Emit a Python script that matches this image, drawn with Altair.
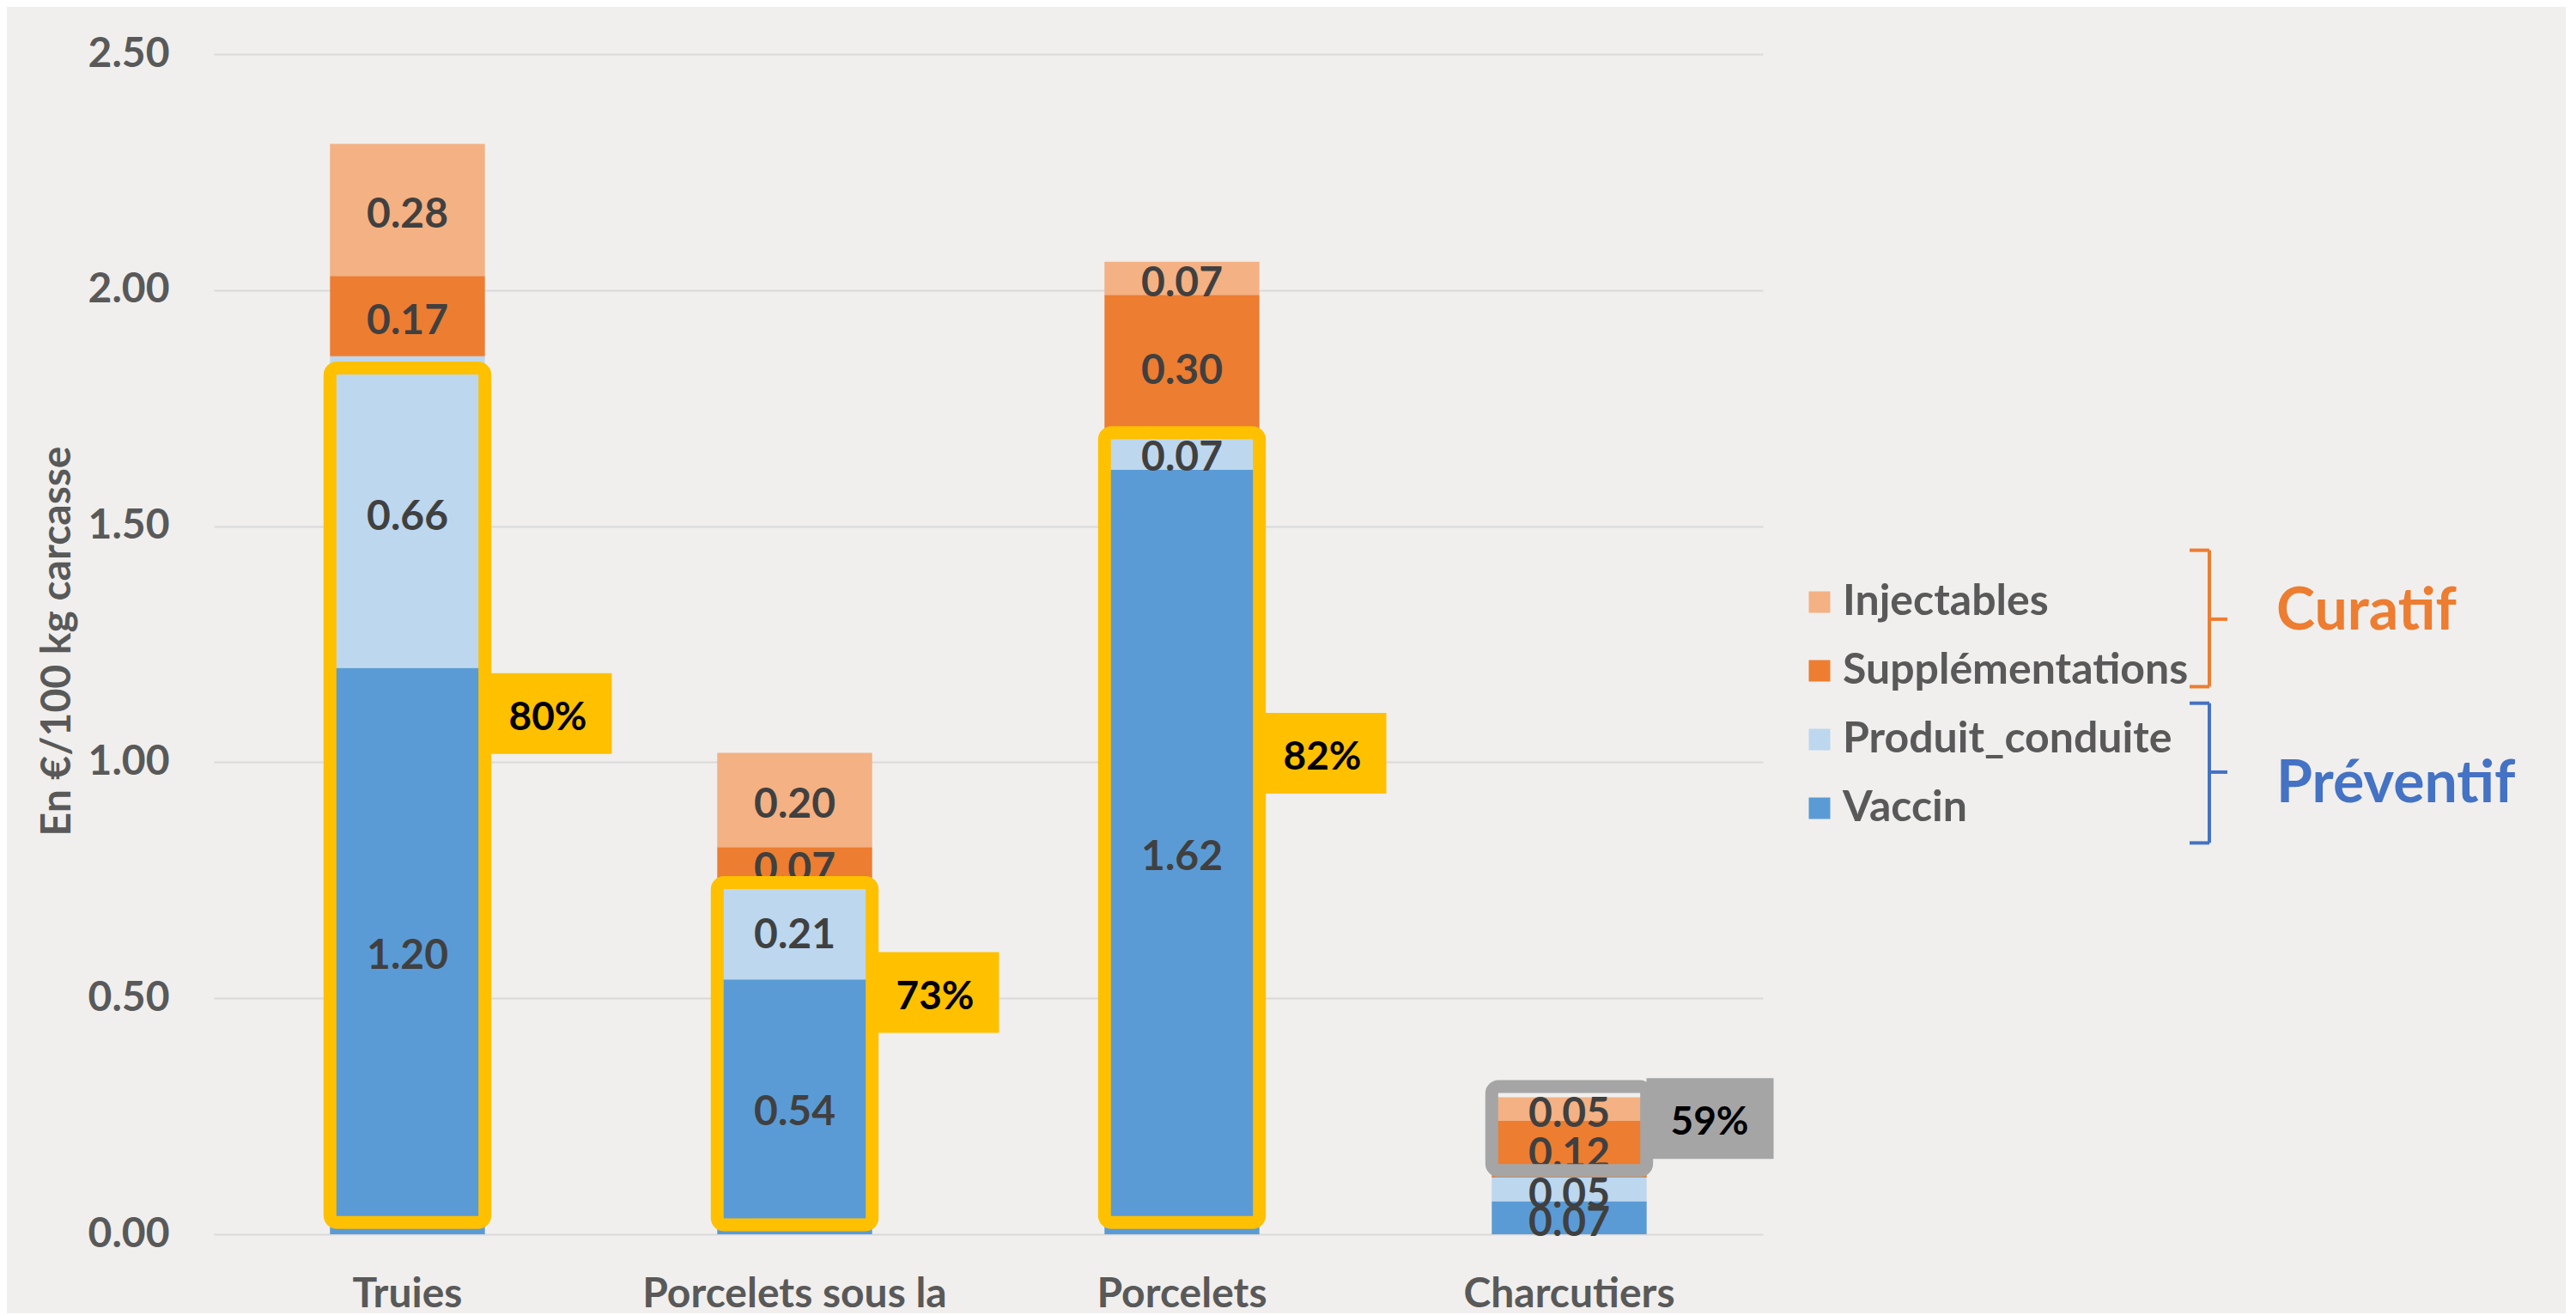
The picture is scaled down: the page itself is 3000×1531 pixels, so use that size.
import altair as alt
import pandas as pd

# ---------------- data ----------------
categories = ["Truies", "Porcelets sous la mère", "Porcelets", "Charcutiers"]
series = ["Vaccin", "Produit_conduite", "Supplémentations", "Injectables"]
vaccin = [1.20, 0.54, 1.62, 0.07]
produit_conduite = [0.66, 0.21, 0.07, 0.05]
supplementations = [0.17, 0.07, 0.30, 0.12]
injectables = [0.28, 0.20, 0.07, 0.05]
series_colors = ["#5B9BD5", "#BDD7EE", "#ED7D31", "#F4B183"]

share_labels = ["80%", "73%", "82%", "59%"]
share_centers = [1.103, 0.512, 1.019, 0.245]
share_colors = ["#FFC000", "#FFC000", "#FFC000", "#A5A5A5"]
frame_lo = [0.025, 0.02, 0.025, 0.135]
frame_hi = [1.835, 0.745, 1.698, 0.313]

# ---------------- tables ----------------
rows = []
values = [vaccin, produit_conduite, supplementations, injectables]
for i, cat in enumerate(categories):
    base = 0.0
    for s, vals in zip(series, values):
        v = vals[i]
        rows.append(dict(category=cat, series=s, value=v, start=base,
                         end=base + v, mid=base + v / 2, label=f"{v:.2f}"))
        base += v
df = pd.DataFrame(rows)

box_h = 0.0855
ann = pd.DataFrame(dict(category=categories, share=share_labels,
                        center=share_centers, lo=[c - box_h for c in share_centers],
                        hi=[c + box_h for c in share_centers], fillc=share_colors,
                        flo=frame_lo, fhi=frame_hi))

FONT = "Lato"
GREY = "#595959"

x_enc = alt.X("category:N", sort=categories,
              scale=alt.Scale(paddingInner=0.6, paddingOuter=0.3),
              axis=alt.Axis(title=None, labelAngle=0, labelFont=FONT, labelFontSize=48,
                            labelFontWeight="bold", labelColor=GREY, ticks=False,
                            domain=False, labelPadding=46, labelBaseline="top",
                            labelLimit=2000, labelLineHeight=56,
                            labelExpr="datum.value == 'Porcelets sous la mère' ? ['Porcelets sous la', 'mère'] : datum.value"))
y_scale = alt.Scale(domain=[0, 2.5], nice=False)

legend_order = ["Injectables", "Supplémentations", "Produit_conduite", "Vaccin"]
legend_colors = ["#F4B183", "#ED7D31", "#BDD7EE", "#5B9BD5"]

bars = alt.Chart(df).mark_bar().encode(
    x=x_enc,
    y=alt.Y("start:Q", scale=y_scale,
            axis=alt.Axis(values=[0, 0.5, 1.0, 1.5, 2.0, 2.5], format=".2f",
                          grid=True, gridColor="#D9D9D9", gridWidth=2,
                          domain=False, ticks=False, labelPadding=52,
                          labelFont=FONT, labelFontSize=48, labelFontWeight="bold",
                          labelColor=GREY, title="En €/100 kg carcasse",
                          titleFont=FONT, titleFontSize=48, titleFontWeight="bold",
                          titleColor=GREY, titleAngle=270, titleX=-182, titleY=683,
                          titleAlign="center", titleBaseline="middle")),
    y2="end:Q",
    color=alt.Color("series:N",
                    scale=alt.Scale(domain=legend_order, range=legend_colors),
                    legend=alt.Legend(orient="none", legendX=1845, legendY=613,
                                      title=None, symbolType="square", symbolSize=625,
                                      symbolStrokeWidth=0, labelFont=FONT,
                                      labelFontSize=50, labelFontWeight="bold",
                                      labelColor=GREY, rowPadding=30, labelOffset=2,
                                      padding=0, labelLimit=800)),
)

seg_text = alt.Chart(df).mark_text(font=FONT, fontSize=48, fontWeight="bold",
                                   color="#404040", baseline="middle", dy=7).encode(
    x=alt.X("category:N", sort=categories),
    y=alt.Y("mid:Q"),
    text="label:N",
)

frames = alt.Chart(ann).mark_bar(fillOpacity=0, strokeWidth=15, cornerRadius=8).encode(
    x=alt.X("category:N", sort=categories),
    y="flo:Q",
    y2="fhi:Q",
    stroke=alt.Stroke("fillc:N", scale=None),
)

boxes = alt.Chart(ann).mark_bar(width=148, xOffset=164).encode(
    x=alt.X("category:N", sort=categories),
    y="lo:Q",
    y2="hi:Q",
    fill=alt.Fill("fillc:N", scale=None),
)

box_text = alt.Chart(ann).mark_text(font=FONT, fontSize=46, fontWeight="bold",
                                    color="#000000", dx=163.5, dy=5, baseline="middle").encode(
    x=alt.X("category:N", sort=categories),
    y="center:Q",
    text="share:N",
)

one = pd.DataFrame({"a": [0]})


def rule(x1, x2, y1, y2, color):
    return alt.Chart(one).mark_rule(color=color, strokeWidth=4).encode(
        x=alt.value(x1), x2=alt.value(x2), y=alt.datum(y1), y2=alt.datum(y2))


def bracket(top, bottom, tip, color):
    xv, xl, xr = 2324, 2301, 2345
    return [rule(xv, xv, top, bottom, color), rule(xl, xv, top, top, color),
            rule(xl, xv, bottom, bottom, color), rule(xv, xr, tip, tip, color)]


brackets = bracket(1.449, 1.160, 1.303, "#ED7D31") + bracket(1.125, 0.829, 0.979, "#4472C4")

cur_text = alt.Chart(one).mark_text(font=FONT, fontSize=68, fontWeight="bold",
                                    color="#ED7D31", align="left", baseline="middle").encode(
    x=alt.value(2402), y=alt.datum(1.318), text=alt.value("Curatif"))
prev_text = alt.Chart(one).mark_text(font=FONT, fontSize=68, fontWeight="bold",
                                     color="#4472C4", align="left", baseline="middle").encode(
    x=alt.value(2402), y=alt.datum(0.952), text=alt.value("Préventif"))

chart = alt.layer(bars, seg_text, frames, boxes, box_text, *brackets, cur_text, prev_text).properties(
    width=1804, height=1374,
    autosize=alt.AutoSizeParams(type="none"),
    padding={"left": 241, "top": 55, "right": 935, "bottom": 92},
    background="#F0EFED",
).configure_view(stroke=None)

chart.save("out.html", embed_options={"renderer": "svg", "actions": False})
